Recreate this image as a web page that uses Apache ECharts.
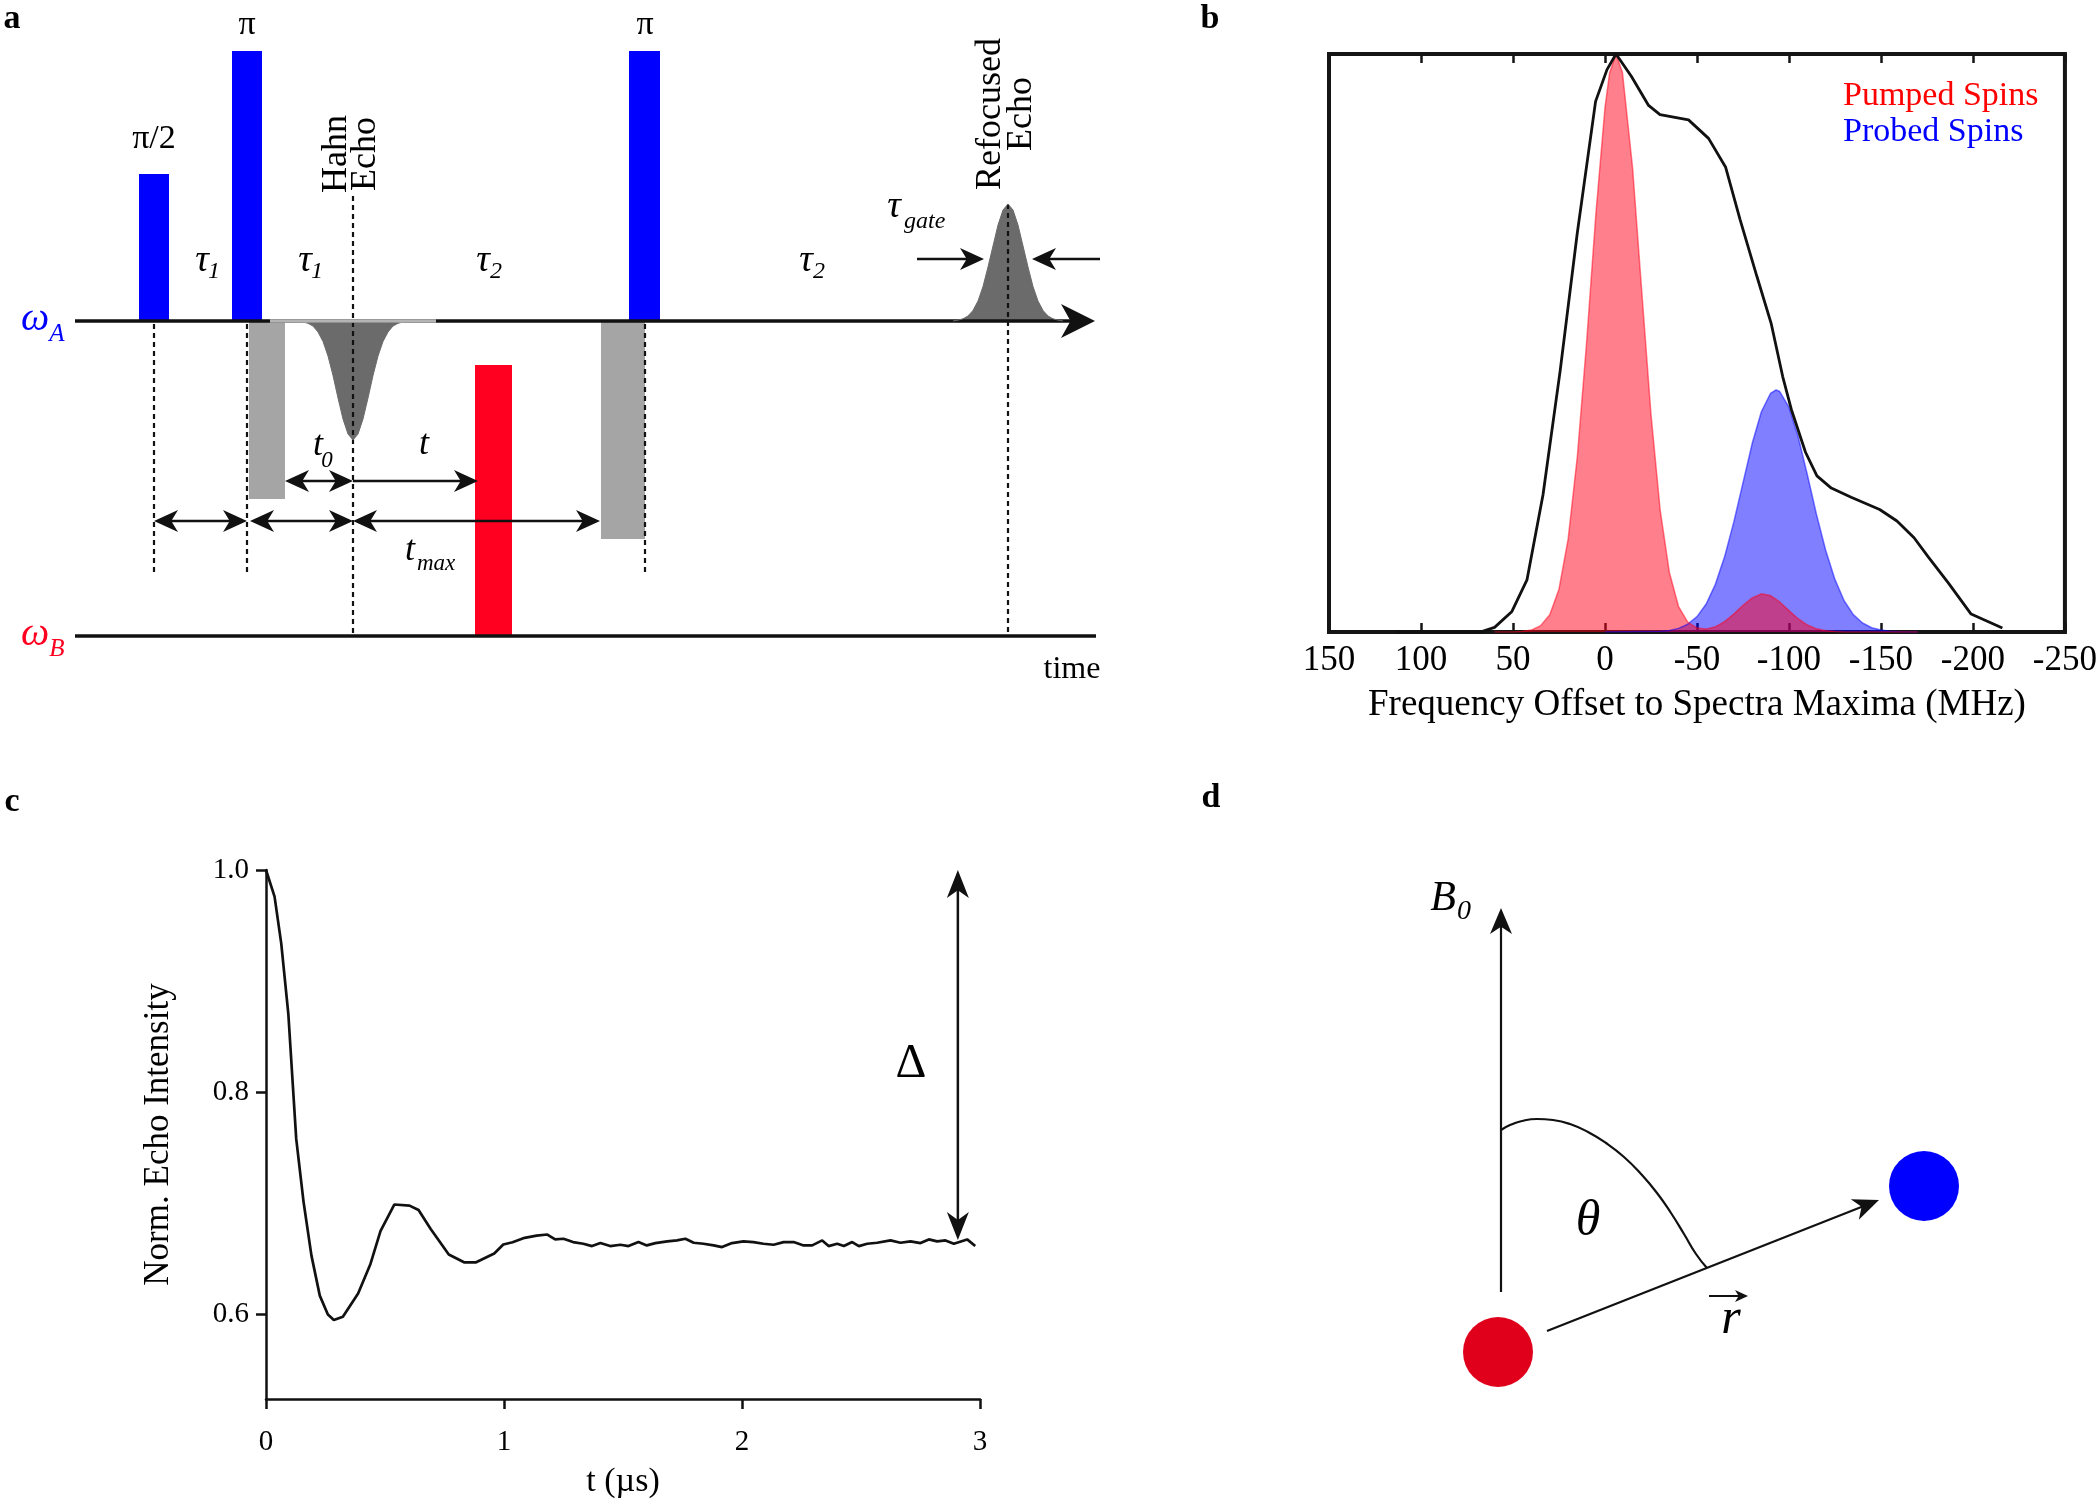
<!DOCTYPE html>
<html><head><meta charset="utf-8">
<script src="https://cdn.jsdelivr.net/npm/echarts@6/dist/echarts.min.js"></script>
<style>html,body{margin:0;padding:0;background:#fff}#main{width:2100px;height:1500px}</style>
</head><body><div id="main"></div>
<script>
const SERIF = '"Liberation Serif","Times New Roman",serif';

// ---------- Panel a : pulse sequence (time units, amplitude units; omega_A baseline = 0, omega_B baseline = -315)
const mwPulses     = [[64, 94, 0, 147], [157, 187, 0, 270], [554, 585, 0, 270]];
const detWindows   = [[174, 210, 0, -178], [526, 570, 0, -218]];
const pumpPulse    = [[400, 437, -315, -44]];
const hahnEchoT    = [223, 228, 233, 238, 243, 248, 253, 258, 263, 268, 273, 278, 283, 288, 293, 298, 303, 308, 313, 318, 323, 328, 333];
const hahnEchoAmp  = [0, -1, -2.3, -5, -11, -20.5, -35, -54.5, -77, -98, -113, -119, -113, -98, -77, -54.5, -35, -20.5, -11, -5, -2.3, -1, 0];
const refocEchoT   = [878, 883, 888, 893, 898, 903, 908, 913, 918, 923, 928, 933, 938, 943, 948, 953, 958, 963, 968, 973, 978, 983, 988];
const refocEchoAmp = [0, 0.9, 2.2, 5, 10.6, 20, 34.5, 54, 75, 96, 111, 117, 111, 96, 75, 54, 34.5, 20, 10.6, 5, 2.2, 0.9, 0];
const channelA     = [[0, 0, 1020, 0, 0, 1]];
const channelB     = [[0, -315, 1021, -315, 0, 0]];
const hahnBaseline = [[195, 0], [361, 0]];
const dashedMarkers = [[79, -3, 79, -254], [172, -3, 172, -254], [278, 125, 278, -315], [570, -3, 570, -254], [933, 117, 933, -315]];
const intervalArrows = [[210, -160, 278, -160, 1, 1], [278, -160, 403, -160, 0, 1],
  [79, -200, 172, -200, 1, 1], [175, -200, 278, -200, 1, 1], [278, -200, 525, -200, 1, 1],
  [842, 62, 909, 62, 0, 1], [1025, 62, 957, 62, 0, 1]];

// ---------- Panel b : spectra
const specFreq = [114.3, 67.8, 60, 50.7, 42.4, 33.7, 24.4, 15.1, 5.1, -1.1, -6, -14.4, -23.7, -29.9, -45.4, -56.3, -65.6, -73.4, -82.6, -90.4, -96.6, -101.3, -109, -115.2, -123, -133.8, -149.3, -158.7, -168, -175.7, -186.6, -199, -216];
const specIntensity = [0, 0, 0.008, 0.035, 0.09, 0.237, 0.451, 0.689, 0.918, 0.973, 1.0, 0.961, 0.911, 0.895, 0.886, 0.854, 0.804, 0.714, 0.615, 0.533, 0.442, 0.385, 0.311, 0.27, 0.249, 0.233, 0.212, 0.192, 0.163, 0.13, 0.085, 0.031, 0.007];
const pumpFreq = [60, 50, 45, 40, 35, 30, 25, 20, 15, 10, 5, 0, -2.5, -6, -9.5, -15, -20, -25, -30, -35, -40, -45, -50, -55, -60, -65, -70, -75, -80, -85, -90, -95, -100, -105, -110, -115, -120, -125, -130, -140, -170];
const pumpIntensity = [0, 0.0002, 0.0009, 0.0033, 0.011, 0.030, 0.074, 0.161, 0.304, 0.500, 0.721, 0.907, 0.967, 1.0, 0.968, 0.803, 0.589, 0.377, 0.211, 0.103, 0.044, 0.017, 0.007, 0.005, 0.009, 0.018, 0.031, 0.046, 0.059, 0.066, 0.063, 0.052, 0.037, 0.023, 0.012, 0.0055, 0.0022, 0.0007, 0.0002, 0, 0];
const probeFreq = [0, -30, -35, -40, -45, -50, -55, -60, -65, -70, -75, -80, -85, -90, -93, -95, -100, -105, -110, -115, -120, -125, -130, -135, -140, -145, -150, -155, -160, -165, -170];
const probeIntensity = [0, 0.0011, 0.0028, 0.0063, 0.0135, 0.0265, 0.0485, 0.0825, 0.130, 0.190, 0.258, 0.326, 0.381, 0.413, 0.419, 0.416, 0.389, 0.338, 0.272, 0.203, 0.141, 0.091, 0.054, 0.030, 0.0155, 0.0074, 0.0033, 0.0013, 0.0005, 0.0002, 0];

// ---------- Panel c : echo intensity vs t
const cTime = [0, 0.036, 0.064, 0.094, 0.127, 0.158, 0.191, 0.226, 0.26, 0.285, 0.323, 0.387, 0.438, 0.481, 0.539, 0.603, 0.641, 0.692, 0.768, 0.832, 0.883, 0.959, 0.997, 1.036, 1.087, 1.137, 1.182,
  1.215, 1.25, 1.29, 1.333, 1.37, 1.405, 1.446, 1.489, 1.523, 1.565, 1.6, 1.636, 1.686, 1.727, 1.762, 1.797, 1.838, 1.881, 1.916, 1.958, 2.006, 2.048, 2.09, 2.133, 2.175, 2.217, 2.259, 2.295, 2.337, 2.364, 2.4, 2.428, 2.463, 2.491, 2.526, 2.568, 2.624, 2.666, 2.708, 2.75, 2.785, 2.82, 2.855, 2.89, 2.946, 2.98];
const cIntensity = [1.0, 0.976, 0.934, 0.870, 0.758, 0.701, 0.653, 0.617, 0.600, 0.595, 0.598, 0.619, 0.645, 0.675, 0.699, 0.698, 0.694, 0.677, 0.654, 0.647, 0.647, 0.655, 0.663, 0.665, 0.669, 0.671, 0.672,
  0.6676, 0.6682, 0.6652, 0.6637, 0.6616, 0.6643, 0.6616, 0.6628, 0.6616, 0.6652, 0.6622, 0.6643, 0.6658, 0.6667, 0.6682, 0.6646, 0.6637, 0.6622, 0.6607, 0.6643, 0.6658, 0.6652, 0.6637, 0.6628, 0.6652, 0.6652, 0.6622, 0.6622, 0.6667, 0.6616, 0.6637, 0.6616, 0.6652, 0.6616, 0.6637, 0.6646, 0.6667, 0.6646, 0.6658, 0.6643, 0.6676, 0.6658, 0.6667, 0.6637, 0.6676, 0.6616];
const cYTicks = [0.6, 0.8, 1.0];
const deltaArrow = [[2.907, 0.667, 2.907, 1.0, 1, 1]];

// ---------- Panel d : geometry sketch
const dArrows = [[101, 108, 101, 492, 0, 1], [147, 69, 479, 200, 0, 1]];
const rHatArrow = [[309, 104, 348, 104, 0, 1]];
const thetaArcX = [101, 110, 122, 137, 153, 170, 188, 206, 224, 241, 257, 271, 284, 296, 307];
const thetaArcY = [270, 275, 279, 281, 280, 276, 268, 257, 243, 226, 207, 187, 166, 146, 132];
const pumpSpin = [[98, 48]];
const probeSpin = [[524, 214]];

// ---------- helpers
const zip = (a, b) => a.map((v, i) => [v, b[i]]);

function rectSeries(name, data, color, xi, yi) {
  return { type: 'custom', name, xAxisIndex: xi, yAxisIndex: yi, data,
    encode: { x: [0, 1], y: [2, 3] }, silent: true,
    renderItem(params, api) {
      const p0 = api.coord([api.value(0), api.value(2)]);
      const p1 = api.coord([api.value(1), api.value(3)]);
      return { type: 'rect', shape: { x: Math.min(p0[0], p1[0]), y: Math.min(p0[1], p1[1]),
        width: Math.abs(p1[0] - p0[0]), height: Math.abs(p1[1] - p0[1]) }, style: { fill: color } };
    } };
}

function arrowSeries(name, data, xi, yi, o) {
  return { type: 'custom', name, xAxisIndex: xi, yAxisIndex: yi, data, silent: true,
    encode: { x: [0, 2], y: [1, 3] }, z: o.z || 3,
    renderItem(params, api) {
      const a = api.coord([api.value(0), api.value(1)]);
      const b = api.coord([api.value(2), api.value(3)]);
      const hs = api.value(4), he = api.value(5);
      const L = o.len, W = o.half, col = o.color || '#111';
      const dx = b[0] - a[0], dy = b[1] - a[1], d = Math.hypot(dx, dy);
      const ux = dx / d, uy = dy / d, nx = -uy, ny = ux;
      const s0 = hs ? [a[0] + ux * L * 0.6, a[1] + uy * L * 0.6] : a;
      const s1 = he ? [b[0] - ux * L * 0.6, b[1] - uy * L * 0.6] : b;
      const children = [{ type: 'line', shape: { x1: s0[0], y1: s0[1], x2: s1[0], y2: s1[1] },
        style: { stroke: col, lineWidth: o.width } }];
      const head = (tip, vx, vy) => {
        const bx = tip[0] - vx * L, by = tip[1] - vy * L;
        const mx = tip[0] - vx * L * 0.72, my = tip[1] - vy * L * 0.72;
        return { type: 'polygon', shape: { points: [tip, [bx + nx * W, by + ny * W], [mx, my], [bx - nx * W, by - ny * W]] },
          style: { fill: col } };
      };
      if (he) children.push(head(b, ux, uy));
      if (hs) children.push(head(a, -ux, -uy));
      return { type: 'group', children };
    } };
}

function dashSeries(name, data, xi, yi) {
  return { type: 'custom', name, xAxisIndex: xi, yAxisIndex: yi, data, silent: true,
    encode: { x: [0, 2], y: [1, 3] }, z: 3,
    renderItem(params, api) {
      const a = api.coord([api.value(0), api.value(1)]);
      const b = api.coord([api.value(2), api.value(3)]);
      return { type: 'line', shape: { x1: a[0], y1: a[1], x2: b[0], y2: b[1] },
        style: { stroke: '#111', lineWidth: 2.2, lineDash: [5, 4] } };
    } };
}

function txt(x, y, text, size, o = {}) {
  return { type: 'text', x, y, rotation: o.rot || 0, z: 100,
    style: { text, fill: o.color || '#000', fontSize: size, fontFamily: SERIF,
      fontStyle: o.italic ? 'italic' : 'normal', fontWeight: o.bold ? 'bold' : 'normal',
      align: o.align || 'center', verticalAlign: o.va || 'middle' } };
}

const hidden = { show: false };
const axisText = { color: '#000', fontFamily: SERIF };

const option = {
  animation: false,
  backgroundColor: '#fff',
  grid: [
    { left: 75, top: 0, width: 1030, height: 700 },
    { left: 1329, top: 54, width: 739, height: 578, show: true, borderColor: '#151515', borderWidth: 4, backgroundColor: 'transparent' },
    { left: 266, top: 870, width: 714, height: 531 },
    { left: 1400, top: 850, width: 600, height: 550 }
  ],
  xAxis: [
    { gridIndex: 0, type: 'value', min: 0, max: 1030, ...hidden },
    { gridIndex: 1, type: 'value', min: -250, max: 150, interval: 50, inverse: true, position: 'bottom',
      axisLine: { show: false }, splitLine: { show: false },
      axisTick: { inside: true, length: 9, lineStyle: { color: '#151515', width: 2.5 } },
      axisLabel: { ...axisText, fontSize: 35, margin: 11 },
      name: 'Frequency Offset to Spectra Maxima (MHz)', nameLocation: 'middle', nameGap: 55,
      nameTextStyle: { ...axisText, fontSize: 37 } },
    { gridIndex: 1, type: 'value', min: -250, max: 150, interval: 50, inverse: true, position: 'top',
      axisLine: { show: false }, splitLine: { show: false }, axisLabel: { show: false },
      axisTick: { inside: true, length: 9, lineStyle: { color: '#151515', width: 2.5 } } },
    { gridIndex: 2, type: 'value', min: 0, max: 3, interval: 1,
      axisLine: { lineStyle: { color: '#111', width: 2.5 } }, splitLine: { show: false },
      axisTick: { length: 10, lineStyle: { color: '#111', width: 2.5 } },
      axisLabel: { ...axisText, fontSize: 29, margin: 29 },
      name: 't (\u00b5s)', nameLocation: 'middle', nameGap: 66, nameTextStyle: { ...axisText, fontSize: 34 } },
    { gridIndex: 3, type: 'value', min: 0, max: 600, ...hidden }
  ],
  yAxis: [
    { gridIndex: 0, type: 'value', min: -379, max: 321, ...hidden },
    { gridIndex: 1, type: 'value', min: 0, max: 1, ...hidden },
    { gridIndex: 2, type: 'value', min: 0.524, max: 1.0,
      axisLine: { show: true, lineStyle: { color: '#111', width: 2.5 } }, splitLine: { show: false },
      axisTick: { show: true, length: 10, customValues: cYTicks, lineStyle: { color: '#111', width: 2.5 } },
      axisLabel: { ...axisText, fontSize: 29, margin: 17, customValues: cYTicks, formatter: v => v.toFixed(1) },
      name: 'Norm. Echo Intensity', nameLocation: 'middle', nameRotate: 90, nameGap: 90,
      nameTextStyle: { ...axisText, fontSize: 35 } },
    { gridIndex: 3, type: 'value', min: 0, max: 550, ...hidden }
  ],
  series: [
    // ---- panel a
    rectSeries('mw pulses', mwPulses, '#0000FF', 0, 0),
    rectSeries('detection windows', detWindows, '#A5A5A5', 0, 0),
    rectSeries('pump pulse', pumpPulse, '#FF0020', 0, 0),
    { type: 'line', name: 'Hahn echo', xAxisIndex: 0, yAxisIndex: 0, data: zip(hahnEchoT, hahnEchoAmp),
      showSymbol: false, silent: true, lineStyle: { width: 1, color: '#6B6B6B' }, areaStyle: { color: '#6B6B6B', opacity: 1 } },
    { type: 'line', name: 'Refocused echo', xAxisIndex: 0, yAxisIndex: 0, data: zip(refocEchoT, refocEchoAmp),
      showSymbol: false, silent: true, lineStyle: { width: 1, color: '#6B6B6B' }, areaStyle: { color: '#6B6B6B', opacity: 1 } },
    arrowSeries('channel A', channelA, 0, 0, { len: 34, half: 17, width: 3.5 }),
    arrowSeries('channel B', channelB, 0, 0, { len: 10, half: 5, width: 3.5 }),
    { type: 'line', name: 'Hahn baseline', xAxisIndex: 0, yAxisIndex: 0, data: hahnBaseline, z: 4,
      showSymbol: false, silent: true, lineStyle: { width: 3.5, color: '#B4B4B4' } },
    dashSeries('markers', dashedMarkers, 0, 0),
    arrowSeries('intervals', intervalArrows, 0, 0, { len: 24, half: 11, width: 2.5 }),
    // ---- panel b
    { type: 'line', name: 'Probed Spins', xAxisIndex: 1, yAxisIndex: 1, data: zip(probeFreq, probeIntensity),
      showSymbol: false, silent: true, lineStyle: { width: 1.5, color: 'rgba(0,0,255,0.5)' }, areaStyle: { color: 'rgba(0,0,255,0.5)', opacity: 1 } },
    { type: 'line', name: 'Pumped Spins', xAxisIndex: 1, yAxisIndex: 1, data: zip(pumpFreq, pumpIntensity),
      showSymbol: false, silent: true, lineStyle: { width: 1.5, color: 'rgba(255,0,25,0.5)' }, areaStyle: { color: 'rgba(255,0,25,0.5)', opacity: 1 } },
    { type: 'line', name: 'Spectrum', xAxisIndex: 1, yAxisIndex: 1, data: zip(specFreq, specIntensity),
      showSymbol: false, silent: true, lineStyle: { width: 2.8, color: '#111' } },
    // ---- panel c
    { type: 'line', name: 'Echo intensity', xAxisIndex: 3, yAxisIndex: 2, data: zip(cTime, cIntensity),
      showSymbol: false, silent: true, lineStyle: { width: 2.7, color: '#111' } },
    arrowSeries('Delta', deltaArrow, 3, 2, { len: 28, half: 11, width: 2.5 }),
    // ---- panel d
    arrowSeries('vectors', dArrows, 4, 3, { len: 26, half: 11, width: 2.2 }),
    arrowSeries('r hat', rHatArrow, 4, 3, { len: 13, half: 6, width: 2 }),
    { type: 'line', name: 'theta arc', xAxisIndex: 4, yAxisIndex: 3, data: zip(thetaArcX, thetaArcY),
      smooth: true, showSymbol: false, silent: true, lineStyle: { width: 2.2, color: '#111' } },
    { type: 'scatter', name: 'pump spin', xAxisIndex: 4, yAxisIndex: 3, data: pumpSpin, symbolSize: 70,
      silent: true, itemStyle: { color: '#E0001B', opacity: 1 } },
    { type: 'scatter', name: 'probe spin', xAxisIndex: 4, yAxisIndex: 3, data: probeSpin, symbolSize: 70,
      silent: true, itemStyle: { color: '#0000FF', opacity: 1 } }
  ],
  graphic: [
    // panel letters
    txt(12, 19, 'a', 34, { bold: true }),
    txt(1210, 19, 'b', 34, { bold: true }),
    txt(12, 802, 'c', 34, { bold: true }),
    txt(1211, 798, 'd', 34, { bold: true }),
    // panel a labels
    txt(154, 139, '\u03c0/2', 34),
    txt(247, 25, '\u03c0', 34),
    txt(645, 25, '\u03c0', 34),
    txt(202, 261, '\u03c4', 38, { italic: true }), txt(214, 272, '1', 24, { italic: true }),
    txt(305, 261, '\u03c4', 38, { italic: true }), txt(317, 272, '1', 24, { italic: true }),
    txt(483, 261, '\u03c4', 38, { italic: true }), txt(496, 272, '2', 24, { italic: true }),
    txt(806, 261, '\u03c4', 38, { italic: true }), txt(819, 272, '2', 24, { italic: true }),
    txt(337, 154, 'Hahn', 36, { rot: Math.PI / 2 }),
    txt(366, 154, 'Echo', 36, { rot: Math.PI / 2 }),
    txt(991, 114, 'Refocused', 36, { rot: Math.PI / 2 }),
    txt(1022, 114, 'Echo', 36, { rot: Math.PI / 2 }),
    txt(894, 207, '\u03c4', 38, { italic: true }), txt(904, 222, 'gate', 24, { italic: true, align: 'left' }),
    txt(35, 319, '\u03c9', 40, { italic: true, color: '#0000FF' }), txt(57, 334, 'A', 25, { italic: true, color: '#0000FF' }),
    txt(35, 634, '\u03c9', 40, { italic: true, color: '#FF0020' }), txt(57, 649, 'B', 25, { italic: true, color: '#FF0020' }),
    txt(1072, 670, 'time', 32),
    txt(318, 446, 't', 36, { italic: true }), txt(327, 461, '0', 23, { italic: true }),
    txt(424, 445, 't', 36, { italic: true }),
    txt(410, 551, 't', 36, { italic: true }), txt(417, 564, 'max', 23, { italic: true, align: 'left' }),
    // panel b legend
    txt(1843, 96, 'Pumped Spins', 34, { align: 'left', color: '#FF0000' }),
    txt(1843, 132, 'Probed Spins', 34, { align: 'left', color: '#0000FF' }),
    // panel c
    txt(911, 1064, '\u0394', 48),
    // panel d
    txt(1443, 899, 'B', 42, { italic: true }), txt(1464, 912, '0', 28, { italic: true }),
    txt(1588, 1222, '\u03b8', 50, { italic: true }),
    txt(1731, 1320, 'r', 50, { italic: true })
  ]
};

const chart = echarts.init(document.getElementById('main'), null, { renderer: 'canvas' });
chart.setOption(option);
</script>
</body></html>
